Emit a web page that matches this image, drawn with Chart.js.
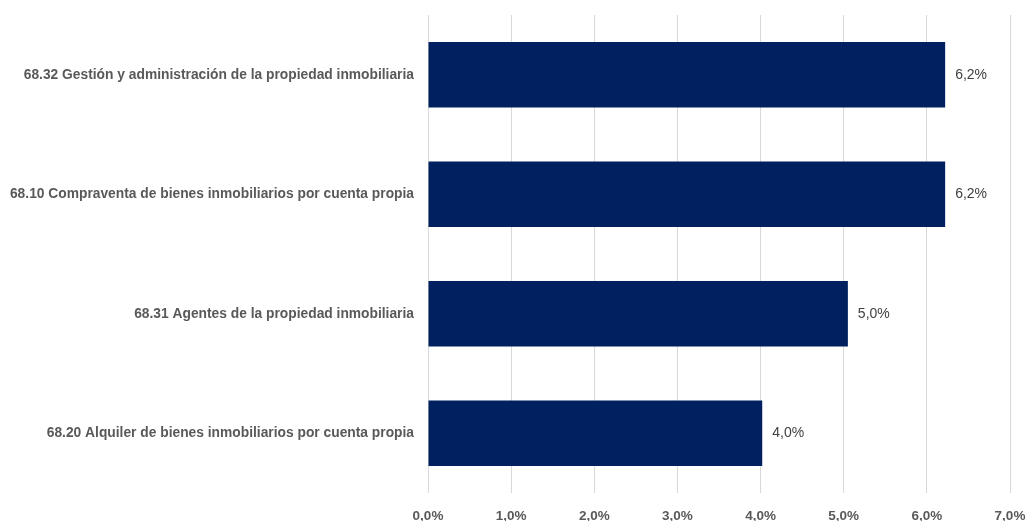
<!DOCTYPE html>
<html>
<head>
<meta charset="utf-8">
<script src="https://cdn.jsdelivr.net/npm/chart.js@4.4.1/dist/chart.umd.min.js"></script>
<style>
  html, body { margin: 0; padding: 0; background: #fff; }
  #wrap { width: 1027px; height: 521px; }
</style>
</head>
<body>
<div id="wrap"><canvas id="chart"></canvas></div>
<script>
const categories = [
    '68.32 Gestión y administración de la propiedad inmobiliaria',
    '68.10 Compraventa de bienes inmobiliarios por cuenta propia',
    '68.31 Agentes de la propiedad inmobiliaria',
    '68.20 Alquiler de bienes inmobiliarios por cuenta propia'
];
const values = [6.22, 6.22, 5.05, 4.02];
const valueLabels = ['6,2%', '6,2%', '5,0%', '4,0%'];

function pct(v) { // 1 -> "1,0%"
    return v.toFixed(1).replace('.', ',') + '%';
}

// etiquetas al final de cada barra
const barLabels = {
    id: 'barLabels',
    afterDatasetsDraw(chart) {
        const ctx = chart.ctx;
        const meta = chart.getDatasetMeta(0);
        ctx.save();
        ctx.font = '14px "Liberation Sans", Arial, sans-serif';
        ctx.fillStyle = '#404040';
        ctx.textAlign = 'left';
        ctx.textBaseline = 'middle';
        meta.data.forEach((bar, i) => {
            ctx.fillText(valueLabels[i], bar.x + 10, bar.y);
        });
        ctx.restore();
    }
};

var ctx = document.getElementById('chart').getContext('2d');
var chart = new Chart(ctx, {
    type: 'bar',
    data: {
        labels: categories,
        datasets: [{
            data: values,
            backgroundColor: '#002060',
            borderWidth: 0,
            barPercentage: 0.55,
            categoryPercentage: 1
        }]
    },
    options: {
        indexAxis: 'y',
        responsive: true,
        maintainAspectRatio: false,
        animation: false,
        layout: { padding: { top: 15, right: 17, left: 0, bottom: 0 } },
        plugins: {
            legend: { display: false },
            tooltip: { enabled: false }
        },
        scales: {
            x: {
                min: 0,
                max: 7,
                ticks: {
                    stepSize: 1,
                    padding: 15,
                    color: '#595959',
                    font: { family: '"Liberation Sans", Arial, sans-serif', size: 13.5, weight: 'bold' },
                    callback: v => pct(v)
                },
                grid: { color: '#d9d9d9', lineWidth: 1, drawTicks: false },
                border: { display: false },
                afterFit: s => {
                    s.height = 28;
                    s.paddingLeft = 0; s.paddingRight = 0;
                }
            },
            y: {
                ticks: {
                    padding: 14,
                    color: '#595959',
                    font: { family: '"Liberation Sans", Arial, sans-serif', size: 13.8, weight: 'bold' }
                },
                grid: { display: false, drawTicks: false },
                border: { display: false },
                afterFit: s => {
                    s.width = 428;
                    s.paddingTop = 0; s.paddingBottom = 0;
                }
            }
        }
    },
    plugins: [barLabels]
});
</script>
</body>
</html>
